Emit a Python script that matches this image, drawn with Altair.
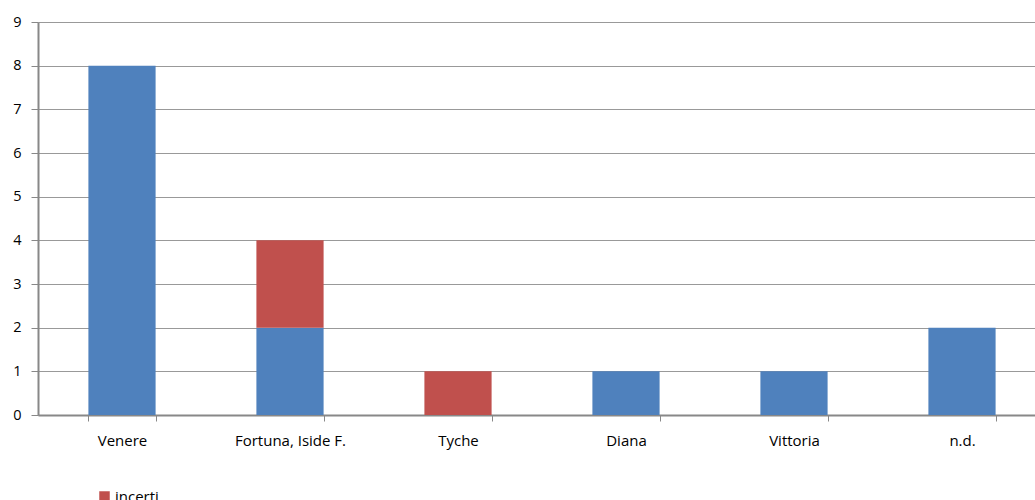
import altair as alt
import pandas as pd

categories = ["Venere", "Fortuna, Iside F.", "Tyche", "Diana", "Vittoria", "n.d."]
certi = [8, 2, 0, 1, 1, 2]
incerti = [0, 2, 1, 0, 0, 0]
series_names = ["incerti", "certi"]
series_colors = ["#C0504D", "#4F81BD"]

rows = []
for i, c in enumerate(categories):
    rows.append({"cat": c, "serie": "certi", "val": certi[i], "ord": 0})
    rows.append({"cat": c, "serie": "incerti", "val": incerti[i], "ord": 1})
df = pd.DataFrame(rows)

FONT = "Open Sans"

chart = alt.Chart(df).mark_bar(strokeWidth=0).encode(
    x=alt.X("cat:N", sort=categories, title=None,
            scale=alt.Scale(range=[0, 1008], paddingInner=0.6, paddingOuter=0.3),
            axis=alt.Axis(labelAngle=0, tickBand="extent", labelFontSize=15, labelFont=FONT,
                          labelColor="#000000", domainColor="#888888", domainWidth=2,
                          tickColor="#888888", tickSize=6, labelPadding=12, grid=False)),
    y=alt.Y("val:Q", stack="zero", title=None,
            scale=alt.Scale(domain=[0, 9], nice=False),
            axis=alt.Axis(values=list(range(10)), tickCount=10, labelFontSize=14.5, labelFont=FONT,
                          labelColor="#000000", domainColor="#888888", domainWidth=2,
                          tickColor="#888888", tickSize=7, labelPadding=10,
                          gridColor="#999999", gridWidth=1)),
    color=alt.Color("serie:N",
                    scale=alt.Scale(domain=series_names, range=series_colors),
                    legend=alt.Legend(title=None, orient="none", legendX=59, legendY=467,
                                      symbolType="square", symbolSize=110, symbolStrokeWidth=0,
                                      labelFontSize=15, labelFont=FONT, labelColor="#000000",
                                      labelOffset=3,
                                      direction="vertical", rowPadding=6)),
    order=alt.Order("ord:Q"),
).properties(
    width=997, height=393,
    autosize=alt.AutoSizeParams(type="none"),
    padding={"left": 38, "top": 22, "right": 0, "bottom": 85},
).configure_view(stroke=None).configure(background="white")

chart.save("out.html", embed_options={"renderer": "svg", "actions": False})
